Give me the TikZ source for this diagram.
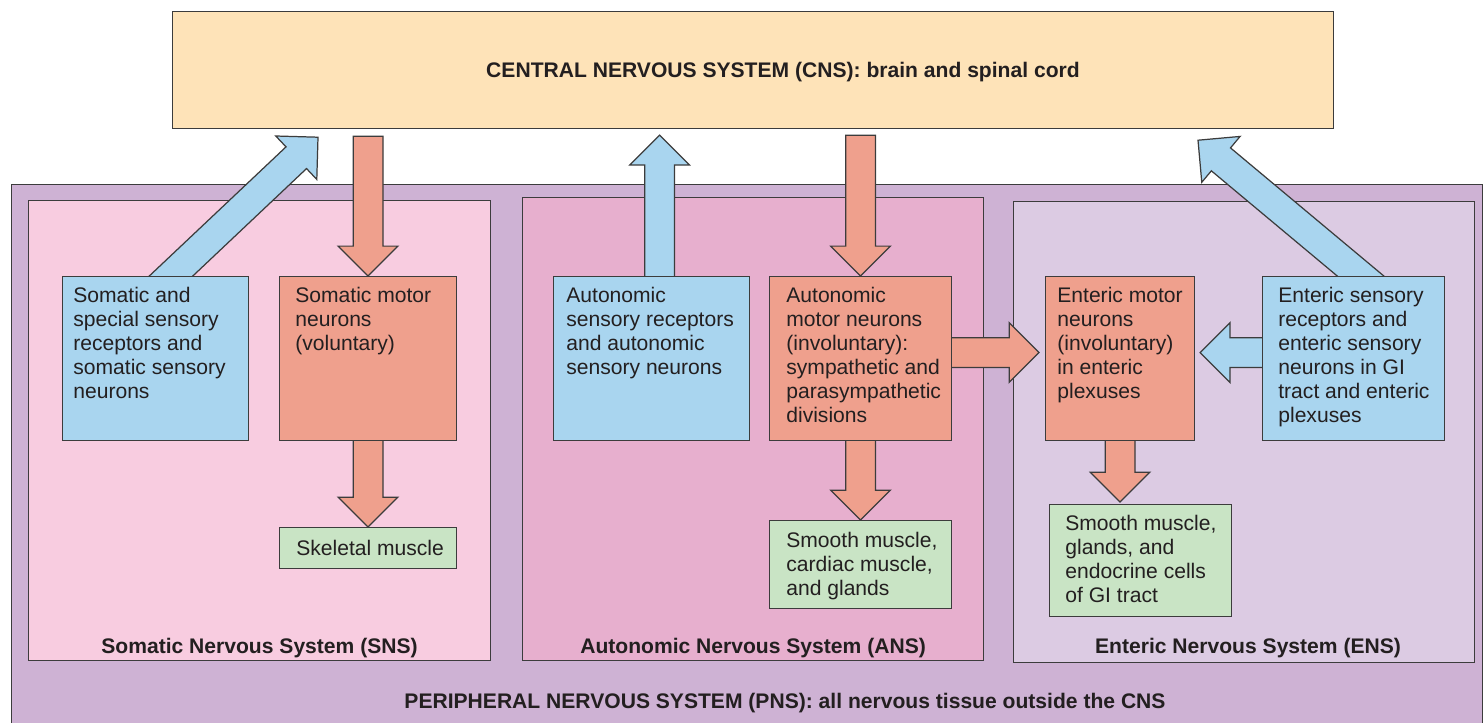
\documentclass[tikz,border=0pt]{standalone}
\usepackage{fontspec}
\setmainfont{Liberation Sans}
\usetikzlibrary{calc}
\usepackage{xcolor}
\definecolor{edge}{HTML}{3C3C3C}
\definecolor{ink}{HTML}{231F20}
\definecolor{cnsfill}{HTML}{FEE3B8}
\definecolor{pnsfill}{HTML}{CEB2D4}
\definecolor{snsfill}{HTML}{F8CCE0}
\definecolor{ansfill}{HTML}{E7AFCE}
\definecolor{ensfill}{HTML}{DCCBE3}
\definecolor{sensblue}{HTML}{A9D5EF}
\definecolor{motorred}{HTML}{EFA08D}
\definecolor{effgreen}{HTML}{C9E4C5}

\pgfdeclarelayer{back}
\pgfdeclarelayer{mid}
\pgfsetlayers{back,mid,main}

\newcommand{\blockarr}[3]{%
  \coordinate (ba-s) at #2;
  \coordinate (ba-t) at #3;
  \coordinate (ba-h) at ($(ba-t)!17pt!(ba-s)$);
  \filldraw[arrowedge, fill=#1]
    ($(ba-s)!8.5pt!90:(ba-t)$) -- ($(ba-h)!8.5pt!-90:(ba-s)$) --
    ($(ba-h)!17pt!-90:(ba-s)$) -- (ba-t) --
    ($(ba-h)!17pt!90:(ba-s)$) -- ($(ba-h)!8.5pt!90:(ba-s)$) --
    ($(ba-s)!8.5pt!-90:(ba-t)$) -- cycle;
}

\begin{document}
\begin{tikzpicture}[
  x=0.02cm, y=-0.02cm,
  sysbox/.style={draw=edge, line width=0.7pt, anchor=north west, inner sep=0pt},
  cell/.style={draw=edge, line width=0.7pt, anchor=north west, inner sep=0pt, minimum height=3.28cm},
  txt/.style={anchor=north west, inner sep=0pt, align=left, text=ink, font=\fontsize{12}{13.66}\selectfont},
  title/.style={anchor=base, inner sep=0pt, text=ink, font=\fontsize{12}{14}\selectfont\bfseries},
  arrowedge/.style={draw=edge, line width=0.7pt, line join=miter}
]
\useasboundingbox (0,0) rectangle (1484,723);

\begin{pgfonlayer}{back}
\node[sysbox, fill=cnsfill, minimum width=23.22cm, minimum height=2.34cm] (cns) at (172,11) {};
\node[sysbox, fill=pnsfill, minimum width=29.42cm, minimum height=11.2cm] (pns) at (11,184) {};
\node[sysbox, fill=snsfill, minimum width=9.24cm, minimum height=9.2cm] (sns) at (28,200) {};
\node[sysbox, fill=ansfill, minimum width=9.22cm, minimum height=9.26cm] (ans) at (522,197) {};
\node[sysbox, fill=ensfill, minimum width=9.22cm, minimum height=9.22cm] (ens) at (1013,201) {};
\end{pgfonlayer}

\node[title] (cns-t) at (783,78) {CENTRAL NERVOUS SYSTEM (CNS): brain and spinal cord};
\node[title] (pns-t) at (785,708) {PERIPHERAL NERVOUS SYSTEM (PNS): all nervous tissue outside the CNS};
\node[title] (sns-t) at ($(sns.south)+(0,-8)$) {Somatic Nervous System (SNS)};
\node[title] (ans-t) at ($(ans.south)+(0,-8)$) {Autonomic Nervous System (ANS)};
\node[title] (ens-t) at ($(ens.south)+(4,-10)$) {Enteric Nervous System (ENS)};

\node[cell, fill=sensblue, minimum width=3.72cm] (ssens) at (62,276) {};
\node[cell, fill=motorred, minimum width=3.54cm] (smot) at (279,276) {};
\node[cell, fill=effgreen, minimum width=3.54cm, minimum height=0.82cm] (skel) at (279,527) {};
\node[cell, fill=sensblue, minimum width=3.92cm] (asens) at (553,276) {};
\node[cell, fill=motorred, minimum width=3.64cm] (amot) at (769,276) {};
\node[cell, fill=effgreen, minimum width=3.64cm, minimum height=1.76cm] (asmooth) at (769,520) {};
\node[cell, fill=motorred, minimum width=2.98cm] (emot) at (1045,276) {};
\node[cell, fill=effgreen, minimum width=3.64cm, minimum height=2.24cm] (esmooth) at (1049,504) {};
\node[cell, fill=sensblue, minimum width=3.64cm] (esens) at (1262,276) {};

\node[txt] (ssens-t) at ($(ssens.north west)+(11,11)$) {Somatic and\\special sensory\\receptors and\\somatic sensory\\neurons};
\node[txt] (smot-t) at ($(smot.north west)+(16,11)$) {Somatic motor\\neurons\\(voluntary)};
\node[txt, anchor=center] (skel-t) at ($(skel.center)+(2,0)$) {Skeletal muscle};
\node[txt] (asens-t) at ($(asens.north west)+(13,11)$) {Autonomic\\sensory receptors\\and autonomic\\sensory neurons};
\node[txt] (amot-t) at ($(amot.north west)+(17,11)$) {Autonomic\\motor neurons\\(involuntary):\\sympathetic and\\parasympathetic\\divisions};
\node[txt] (asmooth-t) at ($(asmooth.north west)+(17,12)$) {Smooth muscle,\\cardiac muscle,\\and glands};
\node[txt] (emot-t) at ($(emot.north west)+(12,11)$) {Enteric motor\\neurons\\(involuntary)\\in enteric\\plexuses};
\node[txt] (esmooth-t) at ($(esmooth.north west)+(16,11)$) {Smooth muscle,\\glands, and\\endocrine cells\\of GI tract};
\node[txt] (esens-t) at ($(esens.north west)+(16,11)$) {Enteric sensory\\receptors and\\enteric sensory\\neurons in GI\\tract and enteric\\plexuses};

\begin{pgfonlayer}{mid}
\blockarr{sensblue}{($(ssens.north)+(-29,42)$)}{($(cns.south west)+(146,8)$)}
\blockarr{motorred}{($(cns.south -| smot.north)+(0,7)$)}{(smot.north)}
\blockarr{motorred}{(smot.center)}{(skel.north)}
\blockarr{sensblue}{($(asens.north)+(8,20)$)}{($(cns.south -| asens.north)+(8,6)$)}
\blockarr{motorred}{($(cns.south -| amot.north)+(0,6)$)}{(amot.north)}
\blockarr{motorred}{(amot.center)}{(asmooth.north)}
\blockarr{motorred}{($(amot.center)+(0,-6)$)}{($(emot.west)+(-6,-6)$)}
\blockarr{motorred}{(emot.center)}{($(emot.center |- esmooth.north)+(0,-2)$)}
\blockarr{sensblue}{($(esens.center)+(0,-6)$)}{($(emot.east)+(5,-6)$)}
\blockarr{sensblue}{($(esens.north)+(56,41)$)}{($(cns.south east)+(-136,11)$)}
\end{pgfonlayer}
\end{tikzpicture}
\end{document}
